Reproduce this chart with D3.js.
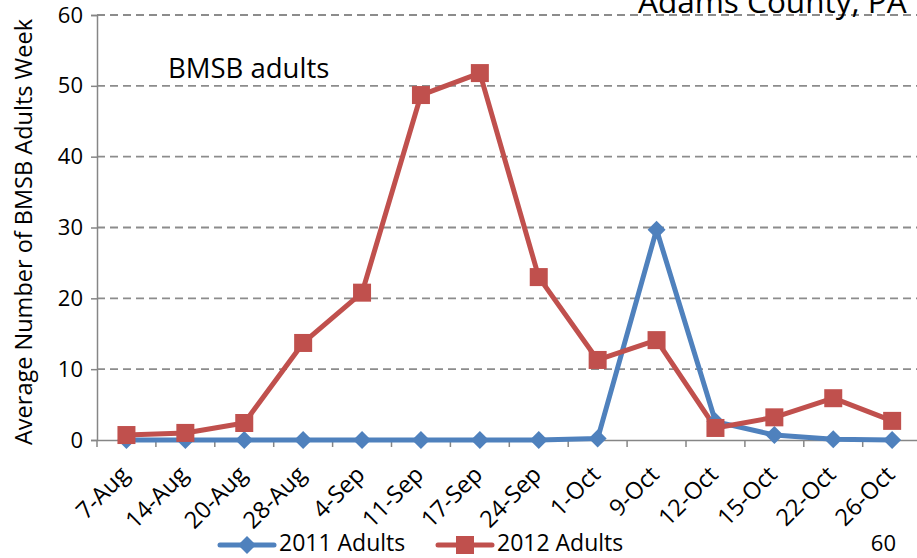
<!DOCTYPE html>
<html><head><meta charset="utf-8">
<script src="https://cdn.jsdelivr.net/npm/d3@7"></script>
<style>body{margin:0;background:#fff;overflow:hidden}svg{display:block;font-family:"Open Sans",sans-serif}</style>
</head><body><svg id="c" width="917" height="558"></svg>
<script>
const categories = ["7-Aug","14-Aug","20-Aug","28-Aug","4-Sep","11-Sep","17-Sep","24-Sep","1-Oct","9-Oct","12-Oct","15-Oct","22-Oct","26-Oct"];
const adults2011 = [0,0,0,0,0,0,0,0,0.2,29.7,2.6,0.7,0.1,0];
const adults2012 = [0.7,1.0,2.4,13.7,20.8,48.7,51.8,23.0,11.3,14.1,1.7,3.2,5.9,2.7];
const yTicks = [0,10,20,30,40,50,60];
const seriesNames = ["2011 Adults","2012 Adults"];
const colors = ["#4F81BD","#C0504D"];

const svg = d3.select("#c");
const x = d3.scaleBand().domain(categories).range([97, 97 + 14*58.9]);
const y = d3.scaleLinear().domain([0,60]).range([440, 15]);
const cx = d => x(d) + x.bandwidth()/2;

// gridlines
svg.append("g").selectAll("line").data(yTicks.filter(t=>t>0)).join("line")
  .attr("x1",97).attr("x2",925).attr("y1",d=>y(d)).attr("y2",d=>y(d))
  .attr("stroke","#8c8c8c").attr("stroke-width",1.8).attr("stroke-dasharray","8,5");

// y axis
const ya = svg.append("g").attr("transform","translate(97,0)")
  .call(d3.axisLeft(y).tickValues(yTicks).tickSize(6).tickPadding(8));
ya.select(".domain").attr("stroke","#868686").attr("stroke-width",1.5);
ya.selectAll(".tick line").attr("stroke","#868686").attr("stroke-width",1.5);
ya.selectAll(".tick text").attr("font-size",22).attr("fill","#000").attr("font-family","Open Sans");

// x axis
const xa = svg.append("g").attr("transform","translate(0,440)")
  .call(d3.axisBottom(x).tickSize(0).tickPadding(0));
xa.select(".domain").attr("stroke","#868686").attr("stroke-width",1.5);
xa.selectAll(".tick text").remove();
svg.append("g").selectAll("line").data(categories).join("line")
  .attr("x1",d=>x(d)).attr("x2",d=>x(d)).attr("y1",440).attr("y2",447)
  .attr("stroke","#868686").attr("stroke-width",1.5);
svg.append("g").selectAll("text").data(categories).join("text")
  .attr("transform",d=>`translate(${cx(d)+4},${476}) rotate(-45)`)
  .attr("text-anchor","end").attr("font-size",23.5).attr("fill","#000")
  .text(d=>d);

// lines
const line = vals => d3.line().x((v,i)=>cx(categories[i])).y(v=>y(v))(vals);
[adults2011, adults2012].forEach((vals,k)=>{
  svg.append("path").attr("d",line(vals)).attr("fill","none")
    .attr("stroke",colors[k]).attr("stroke-width",5).attr("stroke-linejoin","round");
});
const diamond = s => `M0,${-s} L${s},0 L0,${s} L${-s},0 Z`;
svg.append("g").selectAll("path").data(adults2011).join("path")
  .attr("transform",(v,i)=>`translate(${cx(categories[i])},${y(v)})`)
  .attr("d",diamond(9)).attr("fill",colors[0]);
svg.append("g").selectAll("rect").data(adults2012).join("rect")
  .attr("x",(v,i)=>cx(categories[i])-9).attr("y",v=>y(v)-9)
  .attr("width",18).attr("height",18).attr("fill",colors[1]);

// y label
svg.append("text").attr("transform","translate(32,232) rotate(-90)")
  .attr("text-anchor","middle").attr("font-size",23.5).text("Average Number of BMSB Adults Week");

// annotations
svg.append("text").attr("x",168).attr("y",78).attr("font-size",27.5).text("BMSB adults");
svg.append("text").attr("x",638).attr("y",13).attr("font-size",31.5).text("Adams County, PA");

// legend
const lg = [{x:220, mark:"d"},{x:438, mark:"s"}];
lg.forEach((l,k)=>{
  svg.append("line").attr("x1",l.x).attr("x2",l.x+54).attr("y1",545).attr("y2",545)
    .attr("stroke",colors[k]).attr("stroke-width",5).attr("stroke-linecap","round");
  if(l.mark==="d") svg.append("path").attr("transform",`translate(${l.x+27},545)`).attr("d",diamond(9)).attr("fill",colors[k]);
  else svg.append("rect").attr("x",l.x+27-9).attr("y",545-9).attr("width",18).attr("height",18).attr("fill",colors[k]);
  svg.append("text").attr("x",l.x+59).attr("y",551).attr("font-size",23).text(seriesNames[k]);
});
svg.append("text").attr("x",896).attr("y",551).attr("text-anchor","end").attr("font-size",22).text("60");
</script></body></html>
